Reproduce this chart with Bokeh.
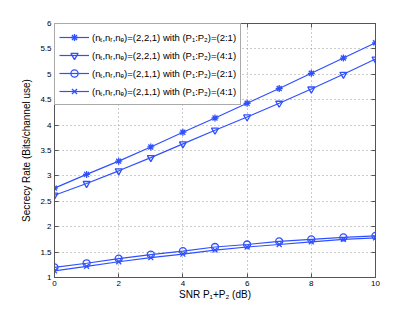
from bokeh.plotting import figure
from bokeh.models import LinearAxis, FixedTicker, Range1d, Legend, LegendItem, CustomLabelingPolicy
from bokeh.embed import file_html
from bokeh.resources import INLINE

snr = [0, 1, 2, 3, 4, 5, 6, 7, 8, 9, 10]
rate_221_21 = [2.76, 3.03, 3.29, 3.57, 3.86, 4.14, 4.43, 4.72, 5.02, 5.32, 5.62]
rate_221_41 = [2.62, 2.85, 3.10, 3.36, 3.63, 3.90, 4.16, 4.43, 4.71, 5.00, 5.30]
rate_211_21 = [1.20, 1.28, 1.37, 1.45, 1.52, 1.60, 1.65, 1.71, 1.75, 1.79, 1.82]
rate_211_41 = [1.13, 1.22, 1.31, 1.39, 1.46, 1.54, 1.60, 1.65, 1.70, 1.75, 1.78]

labels = [
    "(n\u209c,n\u1d63,n\u2091)=(2,2,1) with (P\u2081:P\u2082)=(2:1)",
    "(n\u209c,n\u1d63,n\u2091)=(2,2,1) with (P\u2081:P\u2082)=(4:1)",
    "(n\u209c,n\u1d63,n\u2091)=(2,1,1) with (P\u2081:P\u2082)=(2:1)",
    "(n\u209c,n\u1d63,n\u2091)=(2,1,1) with (P\u2081:P\u2082)=(4:1)",
]
markers = ["asterisk", "inverted_triangle", "circle", "x"]
series = [rate_221_21, rate_221_41, rate_211_21, rate_211_41]

x_ticks = [0, 2, 4, 6, 8, 10]
y_ticks = [1, 1.5, 2, 2.5, 3, 3.5, 4, 4.5, 5, 5.5, 6]

FONT = "Liberation Sans"
BLUE = "#3050ff"
AXC = "#555555"

p = figure(frame_width=321, frame_height=254, output_backend="svg", toolbar_location=None,
           x_range=Range1d(0, 10), y_range=Range1d(1, 6),
           min_border_left=54, min_border_right=32, min_border_top=23, min_border_bottom=28)
p.outline_line_color = AXC
p.background_fill_color = "white"
p.border_fill_color = "white"

for ax in (p.xaxis[0], p.yaxis[0]):
    ax.major_tick_in = 4
    ax.major_tick_out = 0
    ax.minor_tick_in = 0
    ax.minor_tick_out = 0
    ax.axis_line_color = AXC
    ax.major_tick_line_color = AXC
    ax.major_label_text_font = FONT
    ax.major_label_text_font_size = "8px"
    ax.major_label_text_color = "black"
    ax.axis_label_text_font = FONT
    ax.axis_label_text_font_size = "10px"
    ax.axis_label_text_font_style = "normal"
    ax.axis_label_text_color = "black"
    ax.major_label_standoff = 3
p.xaxis[0].axis_label_standoff = 0
p.yaxis[0].axis_label_standoff = 5

p.xaxis[0].ticker = FixedTicker(ticks=x_ticks)
p.yaxis[0].ticker = FixedTicker(ticks=y_ticks)
p.yaxis[0].major_label_overrides = {1: "1", 2: "2", 3: "3", 4: "4", 5: "5", 6: "6"}
p.xaxis[0].axis_label = "SNR P\u2081+P\u2082 (dB)"
p.yaxis[0].axis_label = "Secrecy Rate (Bits/channel use)"

for loc, tk in (("right", y_ticks), ("above", x_ticks)):
    a = LinearAxis(ticker=FixedTicker(ticks=tk))
    a.major_tick_in = 4
    a.major_tick_out = 0
    a.minor_tick_in = 0
    a.minor_tick_out = 0
    a.axis_line_color = AXC
    a.major_tick_line_color = AXC
    a.major_label_policy = CustomLabelingPolicy(code="return []")
    a.major_label_standoff = 0
    p.add_layout(a, loc)

p.xgrid.ticker = FixedTicker(ticks=x_ticks)
p.ygrid.ticker = FixedTicker(ticks=y_ticks)
for g in (p.xgrid[0], p.ygrid[0]):
    g.grid_line_color = "#999999"
    g.grid_line_dash = "1 3"
    g.grid_line_width = 1

items = []
for lab, mk, ys in zip(labels, markers, series):
    r1 = p.line(snr, ys, line_color=BLUE, line_width=1.2)
    r2 = p.scatter(snr, ys, marker=mk, size=7, line_color=BLUE, fill_color=None, line_width=1.3)
    items.append(LegendItem(label=lab, renderers=[r1, r2]))

leg = Legend(items=items, location="top_left")
leg.margin = 0
leg.padding = 4
leg.spacing = 0
leg.glyph_width = 30
leg.glyph_height = 18
leg.label_height = 18
leg.label_standoff = 3
leg.label_text_font = FONT
leg.label_text_font_size = "9.5px"
leg.label_text_color = "black"
leg.border_line_color = AXC
leg.border_line_width = 1
leg.background_fill_alpha = 1
p.add_layout(leg)

open("out.html", "w").write(file_html(p, INLINE))
